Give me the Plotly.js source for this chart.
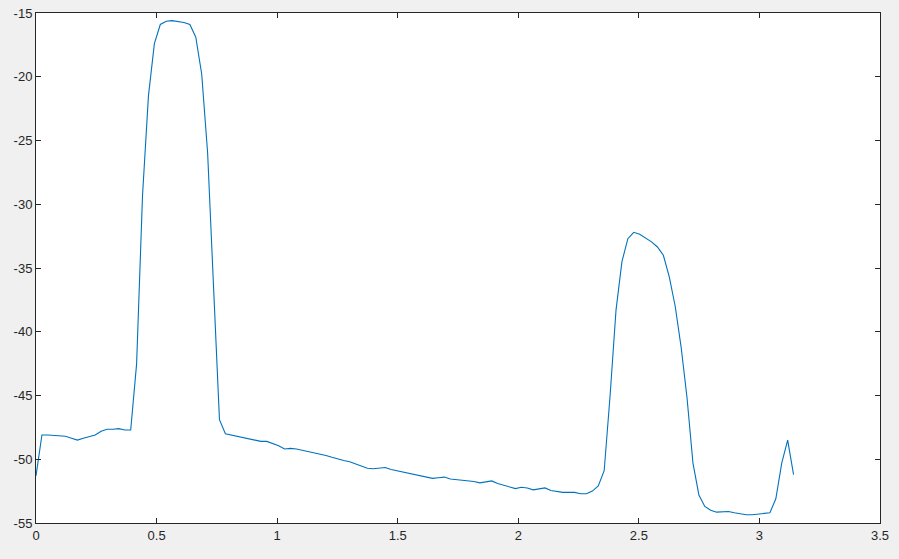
<!DOCTYPE html>
<html>
<head>
<meta charset="utf-8">
<script src="https://cdn.plot.ly/plotly-3.0.1.min.js"></script>
<style>
html,body{margin:0;padding:0;background:#f0f0f0;}
#chart{width:899px;height:559px;}
</style>
</head>
<body>
<div id="chart"></div>
<script>
// sample index -> x = index * pi/128
var sampleCount = 129;
var xStep = Math.PI / 128;
var yValues = [
 -51.3, -48.1, -48.1, -48.15, -48.2, -48.2, -48.35, -48.5, -48.35, -48.2,
 -48.1, -47.8, -47.65, -47.65, -47.6, -47.7, -47.7, -42.5, -29.3, -21.5,
 -17.4, -15.9, -15.65, -15.6, -15.65, -15.75, -15.9, -16.9, -19.8, -26.0,
 -36.5, -46.9, -48.0, -48.1, -48.2, -48.3, -48.4, -48.5, -48.6, -48.6,
 -48.75, -48.95, -49.2, -49.15, -49.2, -49.3, -49.35, -49.5, -49.6, -49.7,
 -49.85, -50.0, -50.1, -50.2, -50.35, -50.5, -50.7, -50.75, -50.7, -50.65,
 -50.8, -50.9, -51.0, -51.1, -51.2, -51.3, -51.4, -51.5, -51.45, -51.4,
 -51.55, -51.6, -51.65, -51.65, -51.75, -51.85, -51.75, -51.7, -51.9, -52.05,
 -52.2, -52.3, -52.2, -52.25, -52.4, -52.3, -52.25, -52.45, -52.55, -52.6,
 -52.6, -52.6, -52.7, -52.7, -52.5, -52.1, -50.9, -45.0, -38.3, -34.5,
 -32.7, -32.2, -32.35, -32.65, -32.95, -33.35, -34.0, -35.7, -38.0, -41.2,
 -45.2, -50.3, -52.8, -53.7, -54.0, -54.15, -54.15, -54.1, -54.2, -54.3,
 -54.35, -54.35, -54.3, -54.3, -54.2, -53.1, -50.3, -48.5, -51.2
];
var xValues = [];
for (var i = 0; i < sampleCount; i++) xValues.push(i * xStep);

var xTicks = [0, 0.5, 1, 1.5, 2, 2.5, 3, 3.5];
var xTickLabels = ['0', '0.5', '1', '1.5', '2', '2.5', '3', '3.5'];
var yTicks = [-55, -50, -45, -40, -35, -30, -25, -20, -15];
var yTickLabels = ['-55', '-50', '-45', '-40', '-35', '-30', '-25', '-20', '-15'];

var axisColor = '#262626';
var tickFont = {family: 'Liberation Sans, Arial, sans-serif', size: 13, color: axisColor};

var trace = {
  x: xValues, y: yValues, type: 'scatter', mode: 'lines',
  line: {color: '#0072BD', width: 1.1},
  hoverinfo: 'x+y'
};

var layout = {
  width: 899, height: 559,
  paper_bgcolor: '#f0f0f0', plot_bgcolor: '#ffffff',
  margin: {l: 36, r: 19, t: 13, b: 36, pad: 0},
  showlegend: false,
  xaxis: {
    range: [0, 3.5], tickmode: 'array', tickvals: xTicks, ticktext: xTickLabels,
    showgrid: false, zeroline: false, showline: true, linecolor: axisColor, linewidth: 1,
    mirror: 'allticks', ticks: 'inside', ticklen: 5, tickcolor: axisColor, tickwidth: 1,
    tickfont: tickFont, fixedrange: true
  },
  yaxis: {
    range: [-55, -15], tickmode: 'array', tickvals: yTicks, ticktext: yTickLabels,
    showgrid: false, zeroline: false, showline: true, linecolor: axisColor, linewidth: 1,
    mirror: 'allticks', ticks: 'inside', ticklen: 5, tickcolor: axisColor, tickwidth: 1,
    tickfont: tickFont, fixedrange: true
  }
};

Plotly.newPlot('chart', [trace], layout, {displayModeBar: false, staticPlot: true});
</script>
</body>
</html>
